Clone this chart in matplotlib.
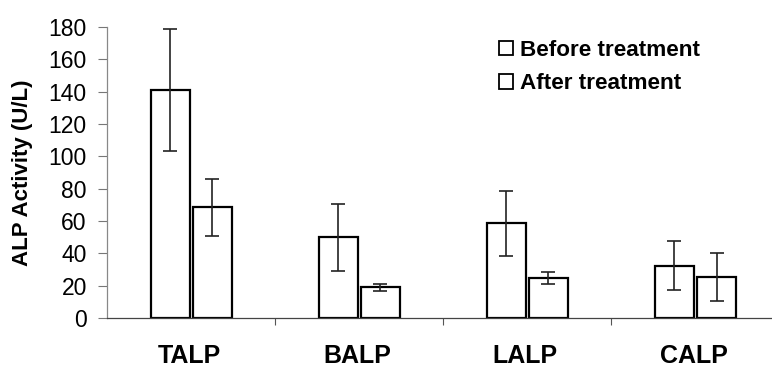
import matplotlib
matplotlib.use("Agg")
import matplotlib.pyplot as plt
import numpy as np
from matplotlib.patches import Patch

categories = ["TALP", "BALP", "LALP", "CALP"]
before = [141, 50, 58.5, 32.3]
before_err = [37.5, 20.7, 20.2, 15.2]
after = [68.5, 19, 24.7, 25.3]
after_err = [17.7, 2.2, 3.8, 15.0]
yticks = [0, 20, 40, 60, 80, 100, 120, 140, 160, 180]

plt.rcParams['font.family'] = ['Liberation Sans', 'DejaVu Sans']

fig = plt.figure(figsize=(7.72, 3.69), dpi=100)
ax = fig.add_axes([107/772, 51/369, (772-107)/772, 291/369])

x = np.arange(len(categories))
w = 0.232
off = 0.125
ax.bar(x - off, before, w, color='white', edgecolor='black', linewidth=1.6, zorder=2)
ax.bar(x + off, after, w, color='white', edgecolor='black', linewidth=1.6, zorder=2)
ax.errorbar(x - off, before, yerr=before_err, fmt='none', ecolor='#222222',
            elinewidth=1.2, capsize=5, capthick=1.2, zorder=3)
ax.errorbar(x + off, after, yerr=after_err, fmt='none', ecolor='#222222',
            elinewidth=1.2, capsize=5, capthick=1.2, zorder=3)

ax.set_xlim(-0.5, 3.455)
ax.set_ylim(0, 180)
ax.set_yticks(yticks)
ax.set_yticklabels([str(v) for v in yticks], fontsize=16.5)
ax.set_xticks([0.5, 1.5, 2.5])
ax.set_xticklabels([])
ax.tick_params(axis='x', direction='out', length=5, width=0.8, color='#555555')
ax.tick_params(axis='y', direction='out', length=6.5, width=0.8, color='#777777', pad=8)

for i, c in enumerate(categories):
    ax.text(i - 0.012, -0.1306, c, transform=ax.get_xaxis_transform(), ha='center', va='center',
            fontsize=18, fontweight='bold')

fig.text(23/772, 1 - 172.5/369, "ALP Activity (U/L)", rotation=90, ha='center', va='center',
         fontsize=16, fontweight='bold')

for s in ['top', 'right']:
    ax.spines[s].set_visible(False)
ax.spines['left'].set_color('#888888')
ax.spines['left'].set_linewidth(0.9)
ax.spines['bottom'].set_color('#444444')
ax.spines['bottom'].set_linewidth(0.9)

handles = [Patch(facecolor='white', edgecolor='black', linewidth=1.3, label='Before treatment'),
           Patch(facecolor='white', edgecolor='black', linewidth=1.3, label='After treatment')]
leg = fig.legend(handles=handles, loc='upper left', bbox_to_anchor=(499/772, 1 - 40/369),
                 frameon=False, fontsize=16.2, handlelength=0.62, handleheight=0.62,
                 handletextpad=0.3, labelspacing=0.55, borderpad=0, borderaxespad=0)
for t in leg.get_texts():
    t.set_fontweight('bold')

fig.savefig("out.png", dpi=100)
